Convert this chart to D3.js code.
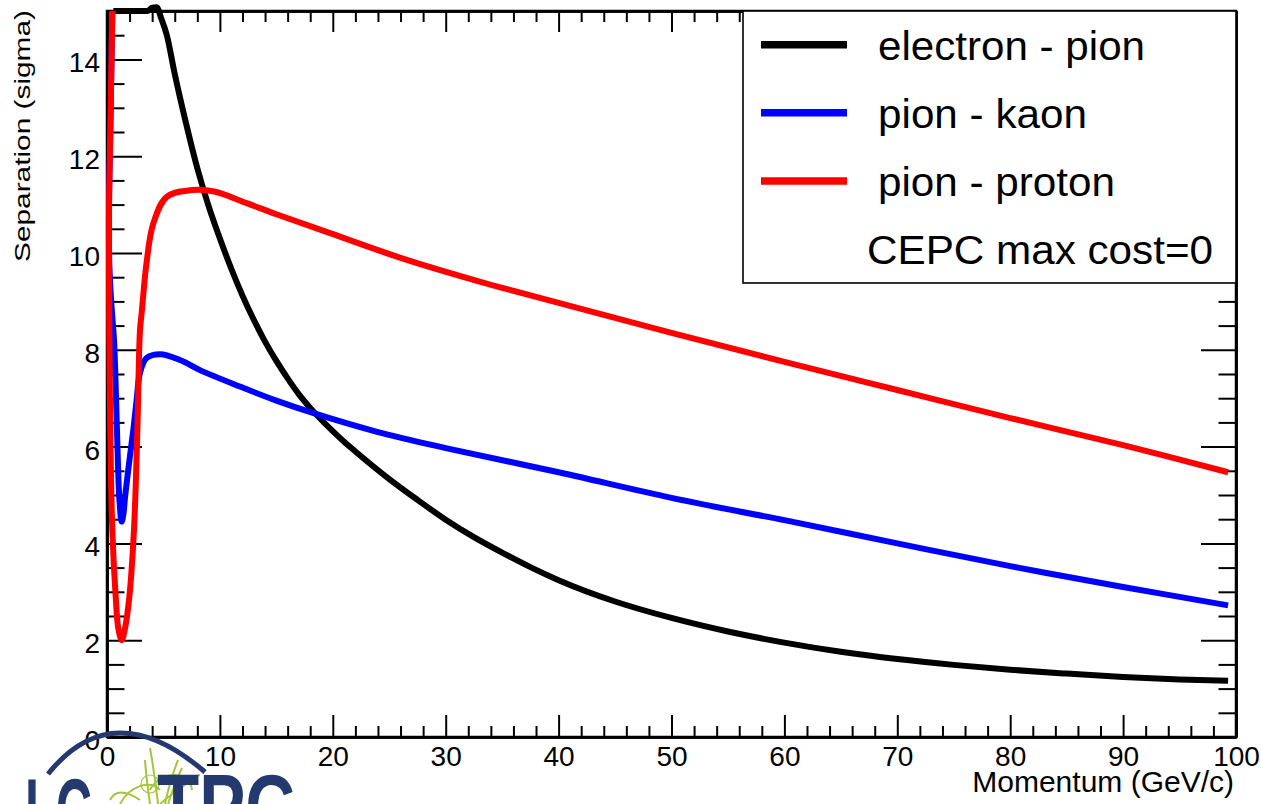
<!DOCTYPE html>
<html>
<head>
<meta charset="utf-8">
<script src="https://cdn.jsdelivr.net/npm/d3@7"></script>
<style>
html,body{margin:0;padding:0;background:#fff;}
svg{display:block;font-family:"Liberation Sans",Arial,Helvetica,sans-serif;}
</style>
</head>
<body>
<svg id="chart" width="1261" height="804"></svg>
<script>
// ---------- data (momentum GeV/c, separation sigma) ----------
const seriesNames = ["electron - pion", "pion - kaon", "pion - proton"];
const seriesColors = ["#000000", "#0000ff", "#ff0000"];

const electronPion = [[0.56,15],[3.6,15],[4.0,15.07],[4.4,15.08],[4.8,14.85],[5.3,14.5],[6,13.7],[7,12.68],
  [8,11.75],[9,10.97],[10,10.3],[11,9.68],[12,9.12],[13,8.62],[14,8.17],[15,7.77],[16,7.41],[17,7.08],
  [18,6.8],[19,6.55],[20,6.32],[21,6.1],[22,5.9],[25,5.33],[27.5,4.9],[30,4.49],[32.5,4.13],[35,3.81],
  [37.5,3.51],[40,3.24],[45,2.8],[50,2.46],[55,2.18],[60,1.95],[65,1.76],[70,1.61],[75,1.49],[80,1.39],
  [85,1.31],[90,1.24],[95,1.19],[99.3,1.16]];

const pionKaon = [[0.47,15],[0.3,12.6],[0.18,11.0],[0.2,9.8],[0.4,8.9],[0.62,8.2],[0.8,7.0],[0.95,5.8],
  [1.1,4.9],[1.3,4.45],[1.45,4.6],[1.6,4.96],[1.95,5.65],[2.33,6.34],[2.62,6.95],[2.92,7.52],[3.5,7.83],
  [4.7,7.91],[6.47,7.79],[8.24,7.58],[11.78,7.24],[15,6.95],[18.3,6.69],[24,6.3],[30,5.97],[40,5.47],
  [50,4.94],[60,4.48],[70,4.0],[80,3.53],[90,3.1],[99.3,2.72]];

const pionProton = [[0.47,15],[0.3,12.6],[0.18,11.0],[0.18,9.6],[0.2,8.4],[0.3,6.2],[0.47,4.28],[0.77,2.9],
  [1.0,2.25],[1.3,2.0],[1.6,2.25],[1.98,2.9],[2.39,4.28],[2.69,6.34],[2.92,8.4],[3.07,8.76],[3.5,9.79],
  [4.1,10.61],[5.29,11.16],[7.5,11.3],[9.5,11.27],[12.37,11.03],[15,10.8],[19.75,10.41],[26,9.9],
  [33,9.41],[40,8.97],[50,8.35],[60,7.75],[70,7.17],[80,6.59],[90,6.03],[99.3,5.47]];

const allSeries = [electronPion, pionKaon, pionProton];

const xMajorTicks = [0,10,20,30,40,50,60,70,80,90,100];
const yMajorTicks = [0,2,4,6,8,10,12,14];
const xTitle = "Momentum (GeV/c)";
const yTitle = "Separation (sigma)";
const legendNote = "CEPC max cost=0";

// ---------- layout ----------
const svg = d3.select("#chart");
const L = 107, R = 1236, T = 11, B = 737;
const x = d3.scaleLinear().domain([0,100]).range([L,R]);
const y = d3.scaleLinear().domain([0,15]).range([B,T]);

const xMinor = d3.range(0,100.01,2).filter(v => v % 10 !== 0);
const yMinor = d3.range(0,15.01,0.5).filter(v => v % 2 !== 0);

function styleAxis(g, keepText){
  g.select(".domain").attr("stroke","#000").attr("stroke-width",2.5);
  g.selectAll(".tick line").attr("stroke","#000").attr("stroke-width",2);
  if(!keepText) g.selectAll(".tick text").remove();
}

// bottom axis
const gB = svg.append("g").attr("transform",`translate(0,${B})`)
  .call(d3.axisBottom(x).tickValues(xMajorTicks).tickSize(-22).tickSizeOuter(0).tickFormat(d3.format("d")));
styleAxis(gB, true);
gB.selectAll(".tick text").attr("y",29).attr("dy",0).attr("font-size",28)
  .attr("font-family","Liberation Sans, Arial, sans-serif").attr("fill","#000");
styleAxis(svg.append("g").attr("transform",`translate(0,${B})`)
  .call(d3.axisBottom(x).tickValues(xMinor).tickSize(-11).tickSizeOuter(0)));

// top axis
styleAxis(svg.append("g").attr("transform",`translate(0,${T})`)
  .call(d3.axisTop(x).tickValues(xMajorTicks).tickSize(-21).tickSizeOuter(0)));
styleAxis(svg.append("g").attr("transform",`translate(0,${T})`)
  .call(d3.axisTop(x).tickValues(xMinor).tickSize(-11).tickSizeOuter(0)));

// left axis
const gL = svg.append("g").attr("transform",`translate(${L},0)`)
  .call(d3.axisLeft(y).tickValues(yMajorTicks).tickSize(-35).tickSizeOuter(0).tickFormat(d3.format("d")));
styleAxis(gL, true);
gL.selectAll(".tick text").attr("x",-7).attr("dy",0).attr("y",12.5).attr("font-size",28)
  .attr("font-family","Liberation Sans, Arial, sans-serif").attr("fill","#000");
styleAxis(svg.append("g").attr("transform",`translate(${L},0)`)
  .call(d3.axisLeft(y).tickValues(yMinor).tickSize(-17.5).tickSizeOuter(0)));

// right axis
styleAxis(svg.append("g").attr("transform",`translate(${R},0)`)
  .call(d3.axisRight(y).tickValues(yMajorTicks).tickSize(-35).tickSizeOuter(0)));
styleAxis(svg.append("g").attr("transform",`translate(${R},0)`)
  .call(d3.axisRight(y).tickValues(yMinor).tickSize(-17.5).tickSizeOuter(0)));

// frame
svg.append("rect").attr("x",L).attr("y",T).attr("width",R-L).attr("height",B-T)
  .attr("fill","none").attr("stroke","#000").attr("stroke-width",2.5);

// axis titles
svg.append("text").attr("x",1234).attr("y",792).attr("text-anchor","end")
  .attr("font-size",30).attr("fill","#000").text(xTitle);
svg.append("text").attr("transform","translate(30,10) rotate(-90)").attr("text-anchor","end")
  .attr("font-size",22).attr("textLength",252).attr("lengthAdjust","spacingAndGlyphs")
  .attr("fill","#000").text(yTitle);

// curves
const lineMono = d3.line().x(d => x(d[0])).y(d => y(d[1])).curve(d3.curveMonotoneX);
const lineCR = d3.line().x(d => x(d[0])).y(d => y(d[1])).curve(d3.curveCatmullRom.alpha(0.5));
allSeries.forEach((s,i) => {
  svg.append("path").datum(s).attr("d", i === 0 ? lineMono : lineCR).attr("fill","none")
    .attr("stroke",seriesColors[i]).attr("stroke-width",6)
    .attr("stroke-linejoin","round").attr("stroke-linecap","butt");
});

// legend
const lg = svg.append("g");
lg.append("rect").attr("x",743).attr("y",T).attr("width",R-743).attr("height",283-T)
  .attr("fill","#fff").attr("stroke","#000").attr("stroke-width",1.6);
const legY = [44.7,112.7,181];
const legLen = [267,209,237];
seriesNames.forEach((n,i) => {
  lg.append("line").attr("x1",761).attr("x2",847).attr("y1",legY[i]).attr("y2",legY[i])
    .attr("stroke",seriesColors[i]).attr("stroke-width",7.5);
  lg.append("text").attr("x",878).attr("y",legY[i]+15).attr("font-size",40)
    .attr("textLength",legLen[i]).attr("lengthAdjust","spacingAndGlyphs").attr("fill","#000").text(n);
});
lg.append("text").attr("x",867).attr("y",263.5).attr("font-size",40)
  .attr("textLength",346).attr("lengthAdjust","spacingAndGlyphs").attr("fill","#000").text(legendNote);

// logo (decoration, bottom-left)
const logo = svg.append("g");
const green = "#a6c63a";
const trackPaths = [
  "M150,804 C148,790 146,775 145,760",
  "M158,804 C156,785 153,765 150,748",
  "M165,804 C168,790 172,775 178,760",
  "M168,804 C172,792 176,780 182,768",
  "M160,804 C170,795 185,785 195,778",
  "M140,800 C125,790 115,790 110,800",
  "M150,790 C160,770 190,770 192,790",
  "M120,804 C130,785 150,780 160,790",
  "M175,804 C178,790 185,778 200,775"
];
trackPaths.forEach(p => logo.append("path").attr("d",p).attr("fill","none")
  .attr("stroke",green).attr("stroke-width",2));
logo.append("circle").attr("cx",150).attr("cy",784).attr("r",9).attr("fill","none")
  .attr("stroke",green).attr("stroke-width",1.2);
logo.append("path").attr("d","M48,774 Q113,693 205,772").attr("fill","none")
  .attr("stroke","#243a6f").attr("stroke-width",5);
logo.append("text").attr("x",25).attr("y",842).attr("font-size",90).attr("font-weight","bold")
  .attr("textLength",67).attr("lengthAdjust","spacingAndGlyphs").attr("fill","#243a6f").text("LC");
logo.append("text").attr("x",157).attr("y",838).attr("font-size",90).attr("font-weight","bold")
  .attr("textLength",138).attr("lengthAdjust","spacingAndGlyphs").attr("fill","#243a6f").text("TPC");
</script>
</body>
</html>
